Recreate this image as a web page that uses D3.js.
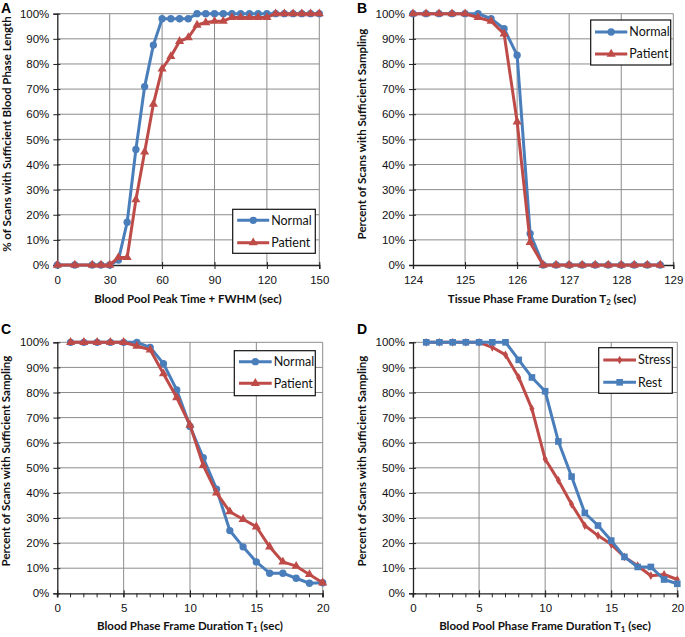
<!DOCTYPE html>
<html><head><meta charset="utf-8">
<script src="https://cdn.jsdelivr.net/npm/d3@7"></script>
<style>
html,body{margin:0;padding:0;background:#fff;}
svg{display:block;font-family:Lato,"Open Sans",sans-serif;}
</style></head>
<body>
<svg id="chart" width="685" height="637"></svg>
<script>
// ---------- DATA ----------
const yTickLabels = ["0%","10%","20%","30%","40%","50%","60%","70%","80%","90%","100%"];

// Panel A
const aX = [0,10,20,25,30,35,40,45,50,55,60,65,70,75,80,85,90,95,100,105,110,115,120,125,130,135,140,145,150];
const aNormal = [0,0,0,0,0,2,17,46,71,87.5,98,98,98,98,100,100,100,100,100,100,100,100,100,100,100,100,100,100,100];
const aPatient = [0,0,0,0,0,3,3,26,45,64,78,83,89,90.5,95.5,96.5,97,97,98.5,98.5,98.5,98.5,98.5,100,100,100,100,100,100];
const aXTicks = [0,30,60,90,120,150];

// Panel B
const bX = [124,124.25,124.5,124.75,125,125.25,125.5,125.75,126,126.25,126.5,126.75,127,127.25,127.5,127.75,128,128.25,128.5,128.75];
const bNormal = [100,100,100,100,100,100,98,94,83.5,12.5,0,0,0,0,0,0,0,0,0,0];
const bPatient = [100,100,100,100,100,98.5,97,92,57,9,0,0,0,0,0,0,0,0,0,0];
const bXTicks = [124,125,126,127,128,129];

// Panel C
const cX = [1,2,3,4,5,6,7,8,9,10,11,12,13,14,15,16,17,18,19,20];
const cNormal = [100,100,100,100,100,100,98,91.5,81,66.5,54,41.5,25,18.5,12.5,8,8,6,4,4.2];
const cPatient = [100,100,100,100,100,98.5,97,87.5,78,67,51,40,32.5,29.5,26.5,18.5,12.5,10.8,7.5,4.2];
const cXTicks = [0,5,10,15,20];

// Panel D
const dX = [1,2,3,4,5,6,7,8,9,10,11,12,13,14,15,16,17,18,19,20];
const dStress = [100,100,100,100,100,98,95,86,73.5,53.5,45,35.5,27,23,19.5,14.5,11,7,7.5,5.5];
const dRest = [100,100,100,100,100,100,100,93,86,80.5,60.5,46.5,32,27,21,14.5,10.5,10.5,5.5,3.8];
const dXTicks = [0,5,10,15,20];
const minorTicks = [0,1,2,3,4,5,6,7,8,9,10,11,12,13,14,15,16,17,18,19,20];

// ---------- STYLE ----------
const BLUE = "#4a7ebb", RED = "#be4b48";
const svg = d3.select("#chart");

function panel(cfg){
  const g = svg.append("g");
  const x = d3.scaleLinear().domain(cfg.xDomain).range([cfg.x0, cfg.x1]);
  const y = d3.scaleLinear().domain([0,100]).range([cfg.yBot, cfg.yTop]);
  const yTicks = d3.range(0,101,10);

  // gridlines
  g.append("g").selectAll("line").data(yTicks.slice(1)).join("line")
    .attr("x1", cfg.x0).attr("x2", cfg.x1)
    .attr("y1", d=>y(d)).attr("y2", d=>y(d))
    .attr("stroke","#8c8c8c").attr("stroke-width",1);
  g.append("g").selectAll("line").data(cfg.xTicks.slice(1)).join("line")
    .attr("x1", d=>x(d)).attr("x2", d=>x(d))
    .attr("y1", cfg.yTop).attr("y2", cfg.yBot)
    .attr("stroke","#8c8c8c").attr("stroke-width",1);

  // y axis
  const yAxis = d3.axisLeft(y).tickValues(yTicks).tickFormat((d,i)=>yTickLabels[i]).tickSize(4).tickPadding(4);
  const ya = g.append("g").attr("transform",`translate(${cfg.x0},0)`).call(yAxis);
  ya.select(".domain").attr("stroke","#222").attr("stroke-width",1.3);
  ya.selectAll(".tick line").attr("stroke","#222").attr("x2",-4).attr("x1",3);
  ya.selectAll("text").attr("font-size","11.5px").attr("fill","#111");

  // minor x ticks
  if (cfg.minor){
    g.append("g").selectAll("line").data(cfg.minor).join("line")
      .attr("x1", d=>x(d)).attr("x2", d=>x(d))
      .attr("y1", cfg.yBot).attr("y2", cfg.yBot+4)
      .attr("stroke","#222").attr("stroke-width",1);
  }
  // x axis
  const xAxis = d3.axisBottom(x).tickValues(cfg.xTicks).tickFormat(d3.format("d")).tickSize(4).tickPadding(7);
  const xa = g.append("g").attr("transform",`translate(0,${cfg.yBot})`).call(xAxis);
  xa.select(".domain").attr("stroke","#222").attr("stroke-width",1.3);
  xa.selectAll(".tick line").attr("stroke","#222").attr("y1",-3).attr("y2",4);
  xa.selectAll("text").attr("font-size","11.5px").attr("fill","#111");

  // series
  cfg.series.forEach(s=>{
    const pts = s.xs.map((d,i)=>[d, s.ys[i]]);
    g.append("path").datum(pts)
      .attr("fill","none").attr("stroke",s.color).attr("stroke-width",3)
      .attr("stroke-linejoin","round")
      .attr("d", d3.line().x(d=>x(d[0])).y(d=>y(d[1])));
    g.append("g").selectAll("path").data(pts).join("path")
      .attr("transform", d=>`translate(${x(d[0])},${y(d[1])})`)
      .attr("d", d3.symbol().type(s.symbol).size(s.size))
      .attr("fill", s.color);
  });

  // legend
  const L = cfg.legend;
  const lg = g.append("g");
  lg.append("rect").attr("x",L.x).attr("y",L.y).attr("width",L.w).attr("height",L.h)
    .attr("fill","#fff").attr("stroke","#111").attr("stroke-width",1.2);
  cfg.series.slice().sort((a,b)=>a.order-b.order).forEach((s,i)=>{
    const ry = L.y + L.rowY[i];
    lg.append("line").attr("x1",L.x+L.l0).attr("x2",L.x+L.l1).attr("y1",ry).attr("y2",ry)
      .attr("stroke",s.color).attr("stroke-width",3);
    lg.append("path").attr("transform",`translate(${L.x+(L.l0+L.l1)/2},${ry})`)
      .attr("d", d3.symbol().type(s.symbol).size(s.size)).attr("fill",s.color);
    lg.append("text").attr("x",L.x+L.l1+2).attr("y",ry).attr("dy","0.35em")
      .attr("font-size","12.5px").attr("fill","#111").text(s.name);
  });

  // titles
  g.append("text").attr("x",cfg.letter[0]).attr("y",cfg.letter[1])
    .attr("font-size","14px").attr("font-weight","bold").attr("font-family","Liberation Sans, Arial, sans-serif").text(cfg.letterText);
  const xt = g.append("text").attr("x",cfg.xTitle[0]).attr("y",cfg.xTitle[1])
    .attr("text-anchor","middle").attr("font-size","11.5px").attr("font-weight","bold").attr("fill","#111");
  cfg.xTitleParts.forEach(p=>{
    const t = xt.append("tspan").text(p.t);
    if (p.sub) t.attr("font-size","8px").attr("dy","2");
    if (p.after) t.attr("dy","-2");
  });
  g.append("text").attr("transform",`translate(${cfg.yTitle[0]},${cfg.yTitle[1]}) rotate(-90)`)
    .attr("text-anchor","middle").attr("font-size","11.5px").attr("font-weight","bold").attr("fill","#111")
    .text(cfg.yTitleText);
}

const circ = d3.symbolCircle, tri = d3.symbolTriangle, sq = d3.symbolSquare, dia = d3.symbolDiamond;

panel({
  xDomain:[0,150], x0:57.3, x1:319.3, yTop:13.7, yBot:265, xTicks:aXTicks,
  series:[
    {name:"Normal", xs:aX, ys:aNormal, color:BLUE, symbol:circ, size:42, order:0},
    {name:"Patient", xs:aX, ys:aPatient, color:RED, symbol:tri, size:36, order:1}
  ],
  legend:{x:232.7,y:209.3,w:82.6,h:44,rowY:[11,33.4],l0:4.5,l1:36.5},
  letter:[1,13], letterText:"A",
  xTitle:[188,303], xTitleParts:[{t:"Blood Pool Peak Time + FWHM (sec)"}],
  yTitle:[11,134], yTitleText:"% of Scans with Sufficient Blood Phase Length"
});

panel({
  xDomain:[124,129], x0:413, x1:673.3, yTop:13.7, yBot:265, xTicks:bXTicks,
  series:[
    {name:"Normal", xs:bX, ys:bNormal, color:BLUE, symbol:circ, size:42, order:0},
    {name:"Patient", xs:bX, ys:bPatient, color:RED, symbol:tri, size:36, order:1}
  ],
  legend:{x:590.7,y:20,w:80,h:45,rowY:[12,34],l0:4.3,l1:36.6},
  letter:[357,13], letterText:"B",
  xTitle:[542,303], xTitleParts:[{t:"Tissue Phase Frame Duration T"},{t:"2",sub:true},{t:" (sec)",after:true}],
  yTitle:[366,134], yTitleText:"Percent of Scans with Sufficient Sampling"
});

panel({
  xDomain:[0,20], x0:57.3, x1:322.7, yTop:342.3, yBot:593.3, xTicks:cXTicks, minor:minorTicks,
  series:[
    {name:"Normal", xs:cX, ys:cNormal, color:BLUE, symbol:circ, size:42, order:0},
    {name:"Patient", xs:cX, ys:cPatient, color:RED, symbol:tri, size:36, order:1}
  ],
  legend:{x:234.3,y:350.7,w:81,h:45,rowY:[11,32.6],l0:4.7,l1:37.4},
  letter:[1,334], letterText:"C",
  xTitle:[190,630], xTitleParts:[{t:"Blood Phase Frame Duration T"},{t:"1",sub:true},{t:" (sec)",after:true}],
  yTitle:[10,461], yTitleText:"Percent of Scans with Sufficient Sampling"
});

panel({
  xDomain:[0,20], x0:413, x1:677.3, yTop:342.3, yBot:593.3, xTicks:dXTicks, minor:minorTicks,
  series:[
    {name:"Stress", xs:dX, ys:dStress, color:RED, symbol:dia, size:22, order:0},
    {name:"Rest", xs:dX, ys:dRest, color:BLUE, symbol:sq, size:44, order:1}
  ],
  legend:{x:598.7,y:347.7,w:73.6,h:45.6,rowY:[12.3,34.6],l0:4.6,l1:37.3},
  letter:[357,334], letterText:"D",
  xTitle:[545,630], xTitleParts:[{t:"Blood Pool Phase Frame Duration T"},{t:"1",sub:true},{t:" (sec)",after:true}],
  yTitle:[366,461], yTitleText:"Percent of Scans with Sufficient Sampling"
});
</script>
</body></html>
